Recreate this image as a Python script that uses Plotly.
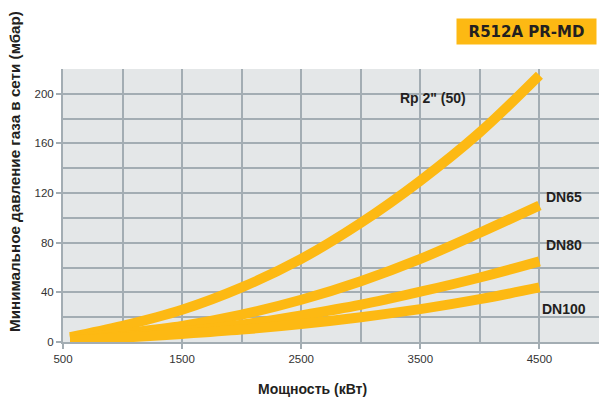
import plotly.graph_objects as go

# Мощность (кВт) и минимальное давление газа (мбар) для каждой рампы
power = [560, 1000, 1500, 2000, 2500, 3000, 3500, 4000, 4500]
rp2 = [4, 13, 26, 44, 67, 96, 130, 169, 215]
dn65 = [2.5, 7, 13, 22, 34, 49, 67, 88, 110]
dn80 = [1.5, 4.5, 8.5, 14, 21.5, 30, 40.5, 52, 65]
dn100 = [1, 3.5, 6.5, 10, 14.5, 20, 26.5, 34.5, 44]

names = ['Rp 2" (50)', 'DN65', 'DN80', 'DN100']
series = [rp2, dn65, dn80, dn100]
label_x = [3605, 4538, 4538, 4502]
label_y = [196.5, 116.5, 78, 27]

x_ticks = [500, 1500, 2500, 3500, 4500]
y_ticks = [0, 40, 80, 120, 160, 200]

ORANGE = '#FDB913'
GRID = '#A3ADB3'
DARK = '#231F20'

fig = go.Figure()

for name, vals in zip(names, series):
    fig.add_trace(go.Scatter(x=power, y=vals, mode='lines', name=name,
                             line=dict(color=ORANGE, width=10, shape='spline', smoothing=1),
                             showlegend=False, hoverinfo='skip'))

# подписи кривых
for name, lx, ly in zip(names, label_x, label_y):
    fig.add_annotation(x=lx, y=ly, text='<b>' + name + '</b>', showarrow=False,
                       xanchor='center' if name.startswith('Rp') else 'left',
                       font=dict(family='Liberation Sans', size=14, color=DARK))

# заголовок в оранжевой плашке
fig.add_annotation(x=1, y=1, xref='paper', yref='paper', xanchor='right', yanchor='bottom',
                   xshift=-2, yshift=24, width=135, height=21, borderpad=2,
                   text='<b>R512A PR-MD</b>', showarrow=False, bgcolor=ORANGE,
                   font=dict(family='DejaVu Sans', size=15, color=DARK))

# подписи осей
fig.add_annotation(x=0.4646, y=0, xref='paper', yref='paper', yanchor='middle',
                   yshift=-47, showarrow=False, text='<b>Мощность (кВт)</b>',
                   font=dict(family='Liberation Sans', size=14, color=DARK))
fig.add_annotation(x=0, y=0.6227, xref='paper', yref='paper', xanchor='center',
                   yanchor='middle', xshift=-49, textangle=-90, showarrow=False,
                   text='<b>Минимальное давление газа в сети (мбар)</b>',
                   font=dict(family='Liberation Sans', size=15.2, color=DARK))

fig.update_layout(
    width=599, height=398,
    margin=dict(l=63, r=0, t=69, b=56),
    paper_bgcolor='white', plot_bgcolor='#E4E7E8',
    font=dict(family='Liberation Sans', size=11.5, color='#333333'),
    xaxis=dict(range=[500, 5000], tickvals=x_ticks, showgrid=True, gridcolor=GRID, gridwidth=2,
               ticks='outside', ticklen=5, tickcolor=GRID, tickwidth=2,
               minor=dict(dtick=500, tick0=500, showgrid=True, gridcolor=GRID, gridwidth=2),
               zeroline=False, showline=True, linecolor=GRID, linewidth=2),
    yaxis=dict(range=[0, 220], tickvals=y_ticks, showgrid=True, gridcolor=GRID, gridwidth=2,
               ticks='outside', ticklen=5, tickcolor=GRID, tickwidth=2,
               minor=dict(dtick=20, tick0=0, showgrid=True, gridcolor=GRID, gridwidth=2),
               zeroline=False, showline=True, linecolor=GRID, linewidth=2),
)

fig.write_html("out.html", config={'displayModeBar': False},
               post_script="document.body.style.margin='0';")
